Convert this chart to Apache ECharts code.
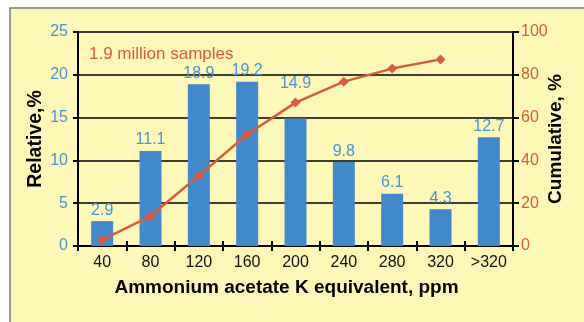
<!DOCTYPE html>
<html>
<head>
<meta charset="utf-8">
<script src="https://cdn.jsdelivr.net/npm/echarts@6/dist/echarts.min.js"></script>
<style>
html,body{margin:0;padding:0;background:#fff;}
#c{width:584px;height:322px;}
</style>
</head>
<body>
<div id="c"></div>
<script>
const categories = ['40','80','120','160','200','240','280','320','>320'];
const relative = [2.9, 11.1, 18.9, 19.2, 14.9, 9.8, 6.1, 4.3, 12.7];
const cumulative = [2.9, 14.0, 32.9, 52.1, 67.0, 76.8, 82.9, 87.2, null];
const leftTicks = [0, 25, 5];
const rightTicks = [0, 100, 20];

const FONT = '"Liberation Sans Narrow", "Liberation Sans", Arial, sans-serif';
const BLUE_T = '#4a92d4';
const RED = '#dc5a3c';
// the label of the 200 bar is lifted above the cumulative line, as in the original
const barData = relative.map((v, i) => i === 4 ? {value: v, label: {offset: [0, -24]}} : v);
const chart = echarts.init(document.getElementById('c'));
chart.setOption({
  animation: false,
  backgroundColor: '#ffffff',
  textStyle: {fontFamily: FONT},
  graphic: [{
    type: 'rect', z: -10, silent: true,
    shape: {x: 10, y: 8, width: 600, height: 400},
    style: {fill: '#fef8b8', stroke: '#7a7a7a', lineWidth: 1.5}
  }],
  title: {
    text: '1.9 million samples', left: 84, top: 41,
    textStyle: {color: RED, fontSize: 17, fontWeight: 'normal', fontFamily: FONT}
  },
  grid: {left: 78, right: 71, top: 32, bottom: 76},
  xAxis: [{
    type: 'category', data: categories, position: 'bottom',
    axisLine: {lineStyle: {color: '#000', width: 2}},
    axisTick: {show: true, inside: false, length: 5, interval: 0, lineStyle: {color: '#000', width: 2}},
    axisLabel: {color: '#111', fontSize: 16, margin: 9, interval: 0, fontFamily: FONT},
    name: 'Ammonium acetate K equivalent, ppm', nameLocation: 'middle', nameGap: 32,
    nameTextStyle: {color: '#000', fontSize: 19, fontWeight: 'bold', fontFamily: FONT, padding: [0, 18, 0, 0]}
  }, {
    type: 'category', data: categories, position: 'bottom',
    axisLine: {show: false},
    axisTick: {show: true, inside: true, length: 5, interval: 0, lineStyle: {color: '#000', width: 2}},
    axisLabel: {show: false}
  }],
  yAxis: [{
    type: 'value', min: leftTicks[0], max: leftTicks[1], interval: leftTicks[2], position: 'left',
    axisLine: {show: true, lineStyle: {color: '#000', width: 2}},
    axisTick: {show: true, length: 5, lineStyle: {color: '#000', width: 2}},
    splitLine: {show: true, lineStyle: {color: '#000', width: 1.5}},
    axisLabel: {color: BLUE_T, fontSize: 16, margin: 10, fontFamily: FONT},
    name: 'Relative,%', nameLocation: 'middle', nameGap: 32, nameRotate: 90, nameMoveOverlap: false,
    nameTextStyle: {color: '#000', fontSize: 19.5, fontWeight: 'bold', fontFamily: FONT}
  }, {
    type: 'value', min: rightTicks[0], max: rightTicks[1], interval: rightTicks[2], position: 'right',
    axisLine: {show: true, lineStyle: {color: '#000', width: 2}},
    axisTick: {show: true, length: 6, lineStyle: {color: '#000', width: 2}},
    splitLine: {show: false},
    axisLabel: {color: RED, fontSize: 16, margin: 8, fontFamily: FONT},
    name: 'Cumulative, %', nameLocation: 'middle', nameGap: 33, nameRotate: 90, nameMoveOverlap: false,
    nameTextStyle: {color: '#000', fontSize: 19, fontWeight: 'bold', fontFamily: FONT}
  }],
  series: [{
    type: 'bar', data: barData, xAxisIndex: 0, yAxisIndex: 0, barWidth: 22,
    itemStyle: {color: '#4189c9'},
    label: {show: true, position: 'top', distance: 3, color: BLUE_T, fontSize: 16, fontFamily: FONT}
  }, {
    type: 'line', data: cumulative, xAxisIndex: 0, yAxisIndex: 1,
    symbol: 'diamond', symbolSize: 10,
    lineStyle: {color: RED, width: 2.5},
    itemStyle: {color: RED}
  }]
});
</script>
</body>
</html>
